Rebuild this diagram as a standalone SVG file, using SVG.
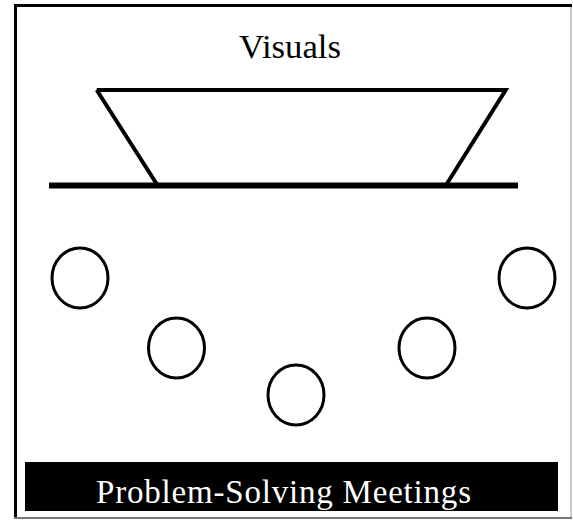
<svg xmlns="http://www.w3.org/2000/svg" width="573" height="520" viewBox="0 0 573 520">
<style>
.ln{stroke:#000;fill:none;stroke-linecap:butt;stroke-linejoin:miter}
.seat{stroke:#000;stroke-width:3;fill:#fff}
.t{font-family:"Liberation Serif","Times New Roman",serif}
</style>
<rect width="573" height="520" fill="#fff"/>
<g id="frame">
<line x1="15.5" y1="4" x2="15.5" y2="519" stroke="#000" stroke-width="3"/>
<line x1="14" y1="5.5" x2="572" y2="5.5" stroke="#000" stroke-width="3"/>
<line x1="571" y1="7" x2="571" y2="519" stroke="#999" stroke-width="1"/>
<line x1="14" y1="518" x2="572" y2="518" stroke="#777" stroke-width="2"/>
</g>
<g id="title">
<text class="t" x="239" y="58" font-size="33" textLength="102" lengthAdjust="spacingAndGlyphs" fill="#000">Visuals</text>
</g>
<g id="screen">
<path class="ln" stroke-width="4" d="M96.7 90 L505.7 90 L446.7 184 M96.7 90 L156.7 184"/>
</g>
<g id="table">
<line class="ln" x1="49" y1="185.5" x2="518" y2="185.5" stroke-width="6"/>
</g>
<g id="seat1"><ellipse class="seat" cx="80" cy="278" rx="28" ry="30"/></g>
<g id="seat2"><ellipse class="seat" cx="176.5" cy="348" rx="28" ry="30"/></g>
<g id="seat3"><ellipse class="seat" cx="296" cy="395" rx="28" ry="30"/></g>
<g id="seat4"><ellipse class="seat" cx="427" cy="348" rx="28" ry="30"/></g>
<g id="seat5"><ellipse class="seat" cx="527" cy="278" rx="28" ry="30"/></g>
<g id="connectors"></g>
<g id="banner">
<rect x="25" y="462" width="533" height="49" fill="#000"/>
<text class="t" x="96" y="503" font-size="33" textLength="375" lengthAdjust="spacing" fill="#fff">Problem-Solving Meetings</text>
</g>
</svg>
